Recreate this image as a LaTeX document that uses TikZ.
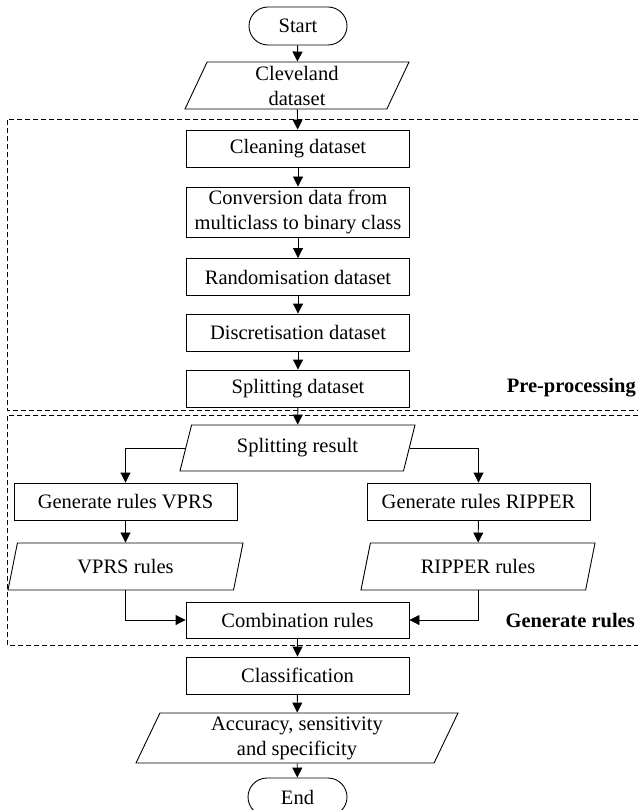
\documentclass[tikz,border=0pt]{standalone}
\usepackage{fontspec}
\setmainfont{Liberation Serif}
\usetikzlibrary{arrows.meta, positioning, shapes.geometric, shapes.misc}
\definecolor{flowink}{HTML}{000000}
\tikzset{
  basebox/.style={draw=flowink, line width=0.9pt, font=\fontsize{20.5}{25}\selectfont, align=center, inner sep=2pt},
  termbox/.style={basebox, rounded rectangle, minimum width=102pt, minimum height=38pt},
  procbox/.style={basebox, rectangle, minimum width=223pt, minimum height=37pt},
  iobox/.style={basebox, trapezium, trapezium left angle=63, trapezium right angle=117,
    trapezium stretches body, minimum height=47pt},
  flow/.style={draw=flowink, line width=0.9pt, -{Triangle[length=10pt,width=10pt]}},
  groupframe/.style={draw=flowink, line width=0.9pt, dash pattern=on 5pt off 3pt},
  grouplabel/.style={font=\fontsize{20.5}{25}\selectfont\bfseries, anchor=base east, inner sep=0pt}
}

\begin{document}
\begin{tikzpicture}[x=1pt, y=-1pt]
  \useasboundingbox (0,0) rectangle (638,810);

  % main column
  \node[termbox] (start) at (298,26) {Start};
  \node[iobox, minimum width=224pt] (cleve) at (297,85.5) {Cleveland\\dataset};
  \node[procbox] (clean) at (298,148.5) {Cleaning dataset};
  \node[procbox, minimum height=50pt] (conv) at (298,212) {Conversion data from\\multiclass to binary class};
  \node[procbox] (rand) at (298,277) {Randomisation dataset};
  \node[procbox] (disc) at (298,332.5) {Discretisation dataset};
  \node[procbox] (split) at (298,388.5) {Splitting dataset};

  % two branches
  \node[iobox, minimum width=235pt, minimum height=46pt] (sres) at (297.5,448) {Splitting result};
  \node[procbox] (genv) at (125.5,501.5) {Generate rules VPRS};
  \node[procbox] (genr) at (478.5,501.5) {Generate rules RIPPER};
  \node[iobox, minimum width=235pt] (vrules) at (125.5,566.5) {VPRS rules};
  \node[iobox, minimum width=234pt] (rrules) at (478,566.5) {RIPPER rules};
  \node[procbox, minimum height=36pt] (comb) at (297.5,620) {Combination rules};

  % result
  \node[procbox] (cls) at (297.5,675.5) {Classification};
  \node[iobox, minimum width=322pt, minimum height=50pt] (acc) at (297,738) {Accuracy, sensitivity\\and specificity};
  \node[termbox, minimum width=103pt] (stop) at (297.5,797) {End};

  % group frames
  \coordinate (preNE) at (638,119);
  \coordinate (preSE) at (638,410);
  \coordinate (genNE) at (638,415);
  \coordinate (genSE) at (638,645);
  \draw[groupframe] (preNE) -- (7,119) -- (7,410) -- (preSE);
  \draw[groupframe] (genNE) -- (7,415) -- (7,645) -- (genSE);
  \node[grouplabel] (prelabel) at (636,392) {Pre-processing};
  \node[grouplabel] (genlabel) at (635,627) {Generate rules};

  % connectors
  \draw[flow] (start) -- (cleve);
  \draw[flow] (cleve) -- (clean);
  \draw[flow] (clean) -- (conv);
  \draw[flow] (conv) -- (rand);
  \draw[flow] (rand) -- (disc);
  \draw[flow] (disc) -- (split);
  \draw[flow] (split) -- (sres);
  \draw[flow] (sres) -| (genv);
  \draw[flow] (sres) -| (genr);
  \draw[flow] (genv) -- (vrules);
  \draw[flow] (genr) -- (rrules);
  \draw[flow] (vrules) |- (comb);
  \draw[flow] (rrules) |- (comb);
  \draw[flow] (comb) -- (cls);
  \draw[flow] (cls) -- (acc);
  \draw[flow] (acc) -- (stop);
\end{tikzpicture}
\end{document}
